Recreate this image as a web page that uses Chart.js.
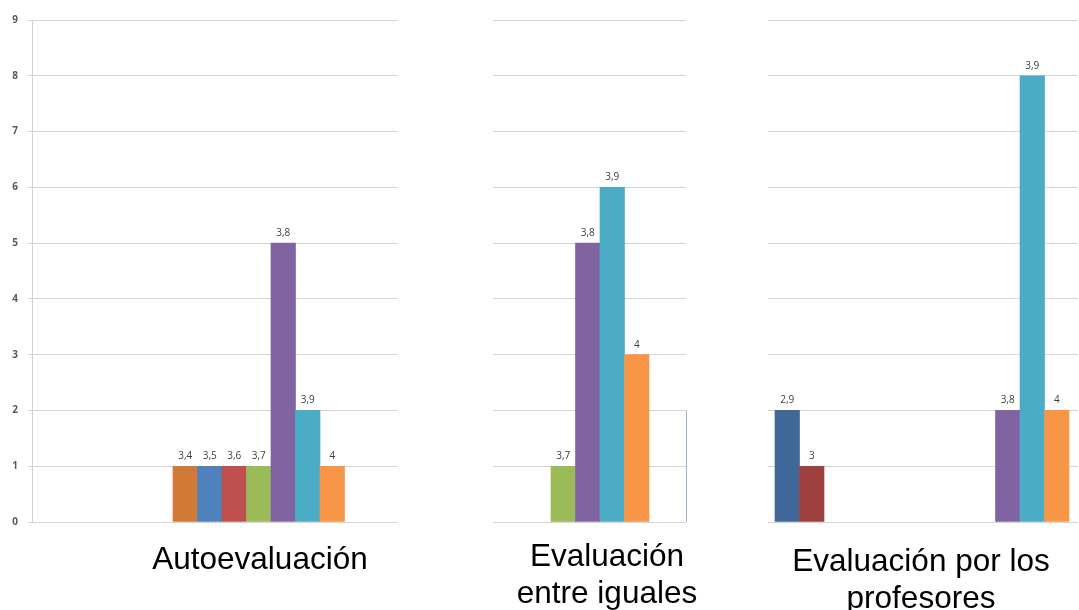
<!DOCTYPE html>
<html>
<head>
<meta charset="utf-8">
<script src="https://cdn.jsdelivr.net/npm/chart.js@4/dist/chart.umd.min.js"></script>
<style>
  body { margin: 0; background: #fff; }
  #wrap { position: relative; width: 1079px; height: 610px; overflow: hidden; }
  canvas { position: absolute; left: 0; top: 0; }
  .titulo { position: absolute; font-family: "Liberation Sans", Arial, sans-serif; font-size: 31.5px;
            line-height: 37px; color: #000; text-align: center; width: 320px; }
</style>
</head>
<body>
<div id="wrap">
  <canvas id="autoChart" width="1079" height="610"></canvas>
  <canvas id="igualesChart" width="1079" height="610"></canvas>
  <canvas id="profChart" width="1079" height="610"></canvas>
  <div class="titulo" style="left:100px; top:540px;">Autoevaluación</div>
  <div class="titulo" style="left:447px; top:537px;">Evaluación<br>entre iguales</div>
  <div class="titulo" style="left:761px; top:542px;">Evaluación por los<br>profesores</div>
</div>
<script>
// series (notas medias) y sus colores
const notas = ["2,9", "3", "3,1", "3,2", "3,3", "3,4", "3,5", "3,6", "3,7", "3,8", "3,9", "4"];
const colores = ["#3F6797", "#9E413E", "#7F9C47", "#6A5286", "#3B8FA5", "#D17A38",
                 "#4F81BD", "#C0504D", "#9BBB59", "#8064A2", "#4BACC6", "#F79646"];

// número de alumnos por nota
const autoevaluacion = [0, 0, 0, 0, 0, 1, 1, 1, 1, 5, 2, 1];
const entreIguales   = [0, 0, 0, 0, 0, 0, 0, 0, 1, 5, 6, 3];
const profesores     = [2, 1, 0, 0, 0, 0, 0, 0, 0, 2, 8, 2];

const yTicks = [0, 1, 2, 3, 4, 5, 6, 7, 8, 9];

// etiquetas encima de cada barra
const etiquetas = {
    id: "etiquetas",
    afterDatasetsDraw(chart) {
        const ctx = chart.ctx;
        const meta = chart.getDatasetMeta(0);
        ctx.save();
        ctx.font = "10px 'Open Sans'";
        ctx.fillStyle = "#404040";
        ctx.textAlign = "center";
        ctx.textBaseline = "bottom";
        meta.data.forEach((bar, i) => {
            const v = chart.data.datasets[0].data[i].y;
            if (!v) return;
            if (bar.x < chart.chartArea.left || bar.x > chart.chartArea.right) return;
            ctx.fillText(notas[i], bar.x, bar.y - 5);
        });
        ctx.restore();
    }
};

// el recuadro azul que se ve a la derecha del gráfico central
const recuadro = {
    id: "recuadro",
    afterDraw(chart, args, opts) {
        if (!opts.mostrar) return;
        const y = chart.scales.y;
        const ctx = chart.ctx;
        ctx.save();
        ctx.strokeStyle = "#9DB3D6";
        ctx.lineWidth = 1;
        ctx.beginPath();
        ctx.moveTo(chart.chartArea.right + 0.5, y.getPixelForValue(2));
        ctx.lineTo(chart.chartArea.right + 0.5, y.getPixelForValue(0));
        ctx.stroke();
        ctx.restore();
    }
};

function crearGrafico(id, valores, xMin, xMax, padLeft, padRight, conEje) {
    const ctx = document.getElementById(id).getContext("2d");
    return new Chart(ctx, {
        type: "bar",
        data: {
            datasets: [{
                data: valores.map((v, i) => ({ x: i, y: v || null })),
                backgroundColor: colores,
                borderWidth: 0,
                barPercentage: 1,
                categoryPercentage: 1
            }]
        },
        options: {
            responsive: false,
            animation: false,
            layout: { padding: { left: padLeft, right: padRight, top: 20, bottom: 88 } },
            plugins: {
                legend: { display: false },
                tooltip: { enabled: false },
                recuadro: { mostrar: id === "igualesChart" }
            },
            scales: {
                x: {
                    type: "linear",
                    bounds: "data",
                    offset: false,
                    min: xMin,
                    max: xMax,
                    display: false,
                    grid: { offset: false },
                    afterBuildTicks: s => { s.ticks = notas.map((n, i) => ({ value: i })); }
                },
                y: {
                    min: 0,
                    max: 9,
                    afterFit: s => { s.width = conEje ? 32 : 0; },
                    afterBuildTicks: s => { s.ticks = yTicks.map(v => ({ value: v })); },
                    border: { display: conEje, color: "#D0D0D0" },
                    grid: { color: "#D4D4D4", drawTicks: conEje, tickLength: 4 },
                    ticks: {
                        display: conEje,
                        color: "#595959",
                        padding: 10,
                        font: { size: 10, family: "'Open Sans'", weight: "bold" }
                    }
                }
            }
        },
        plugins: [etiquetas, recuadro]
    });
}

crearGrafico("autoChart", autoevaluacion, -1.2551, 13.643, 0, 682, true);
crearGrafico("igualesChart", entreIguales, 5.1327, 13.010, 493, 393, false);
crearGrafico("profChart", profesores, -0.7857, 11.867, 768, 1, false);
</script>
</body>
</html>
